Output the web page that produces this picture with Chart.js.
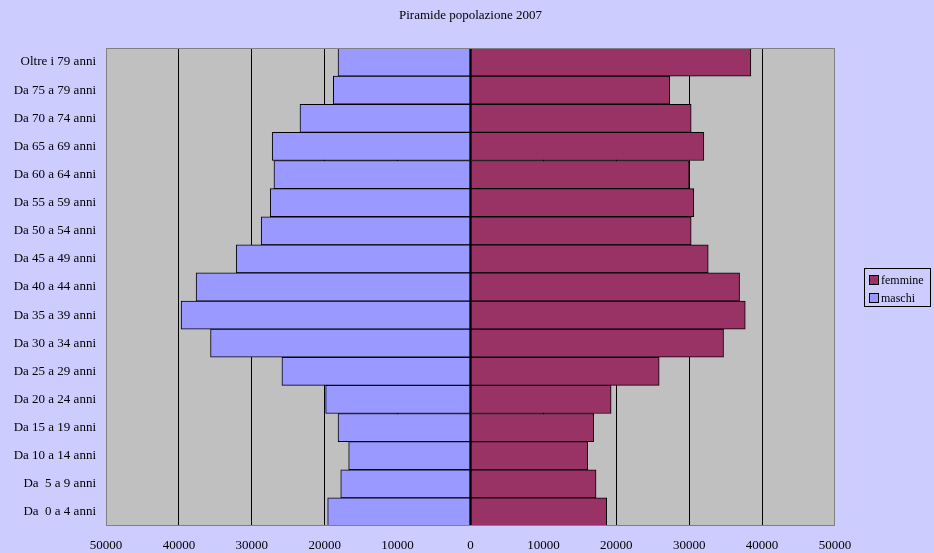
<!DOCTYPE html>
<html>
<head>
<meta charset="utf-8">
<script src="https://cdn.jsdelivr.net/npm/chart.js@4/dist/chart.umd.min.js"></script>
<style>
  html, body { margin: 0; padding: 0; background: #ccccff; }
  #wrap { position: relative; width: 934px; height: 553px; }
  #legend {
    position: absolute; left: 864px; top: 268px; width: 65px; height: 37px;
    border: 1px solid #000; font: 12px "Liberation Serif", "Times New Roman", serif; color: #000;
  }
  #legend div { position: absolute; left: 4px; height: 14px; line-height: 14px; white-space: nowrap; }
  #legend span { display: inline-block; width: 8px; height: 8px; border: 1px solid #000; margin-right: 2px; vertical-align: -1px; }
</style>
</head>
<body>
<div id="wrap">
  <canvas id="pyramid" width="934" height="553"></canvas>
  <div id="legend"></div>
</div>
<script>
const ageGroups = ['Oltre i 79 anni', 'Da 75 a 79 anni', 'Da 70 a 74 anni', 'Da 65 a 69 anni', 'Da 60 a 64 anni',
  'Da 55 a 59 anni', 'Da 50 a 54 anni', 'Da 45 a 49 anni', 'Da 40 a 44 anni', 'Da 35 a 39 anni', 'Da 30 a 34 anni',
  'Da 25 a 29 anni', 'Da 20 a 24 anni', 'Da 15 a 19 anni', 'Da 10 a 14 anni', 'Da  5 a 9 anni', 'Da  0 a 4 anni'];
const femmine = [38460, 27340, 30270, 32010, 30000, 30630, 30270, 32610, 36910, 37690, 34710, 25880, 19290, 16900, 16070, 17220, 18680];
const maschi = [18170, 18820, 23390, 27200, 26960, 27470, 28710, 32140, 37640, 39700, 35660, 25870, 19870, 18170, 16710, 17800, 19590];
const axisMin = -50000;
const axisMax = 50000;
const axisStep = 10000;

const serif = '"Liberation Serif", "Times New Roman", serif';

const plotFrame = {
  id: 'plotFrame',
  afterLayout(chart) {
    // centre the title over the plot area, not the whole canvas
    chart.titleBlock.left = chart.chartArea.left;
    chart.titleBlock.right = chart.chartArea.right;
  },
  beforeDraw(chart) {
    const { ctx, chartArea: a } = chart;
    ctx.save();
    ctx.fillStyle = '#ccccff';
    ctx.fillRect(0, 0, chart.width, chart.height);
    ctx.fillStyle = '#c0c0c0';
    ctx.fillRect(a.left, a.top, a.right - a.left, a.bottom - a.top);
    ctx.restore();
  },
  afterDraw(chart) {
    const { ctx, chartArea: a } = chart;
    ctx.save();
    ctx.strokeStyle = '#808080';
    ctx.lineWidth = 1;
    ctx.strokeRect(Math.round(a.left) + 0.5, Math.round(a.top) + 0.5, Math.round(a.right - a.left) - 1, Math.round(a.bottom - a.top) - 1);
    ctx.restore();
  },
};

const chart = new Chart(document.getElementById('pyramid'), {
  type: 'bar',
  data: {
    labels: ageGroups,
    datasets: [
      { label: 'femmine', data: femmine, backgroundColor: '#993366', borderColor: '#000', borderWidth: 1, borderSkipped: false },
      { label: 'maschi', data: maschi.map((v) => -v), backgroundColor: '#9999ff', borderColor: '#000', borderWidth: 1, borderSkipped: false },
    ],
  },
  plugins: [plotFrame],
  options: {
    indexAxis: 'y',
    responsive: false,
    animation: false,
    layout: { padding: { left: 0, right: 99, top: 0, bottom: 0 } },
    datasets: { bar: { barPercentage: 1, categoryPercentage: 1 } },
    plugins: {
      legend: { display: false },
      tooltip: { enabled: false },
      title: {
        display: true, text: 'Piramide popolazione 2007', color: '#000',
        font: { family: serif, size: 13, weight: 'normal', lineHeight: 1.2 }, padding: { top: 8, bottom: 24.4 },
      },
    },
    scales: {
      x: {
        stacked: true, min: axisMin, max: axisMax,
        afterFit: (scale) => { scale.height = 27; },
        ticks: { stepSize: axisStep, color: '#000', padding: 12, maxRotation: 0, font: { family: serif, size: 13 }, callback: (v) => Math.abs(v) },
        grid: { color: (c) => (c.tick && Math.abs(c.tick.value) === axisMax ? 'rgba(0,0,0,0)' : '#000'), lineWidth: 1, drawTicks: false },
        border: { display: false },
      },
      y: {
        stacked: true,
        afterFit: (scale) => { scale.width = 106; },
        ticks: { color: '#000', padding: 10, autoSkip: false, font: { family: serif, size: 13 } },
        grid: { display: false, drawTicks: false },
        border: { display: false },
      },
    },
  },
});

const legend = document.getElementById('legend');
chart.data.datasets.forEach((ds, i) => {
  const row = document.createElement('div');
  row.style.top = (4 + i * 18) + 'px';
  row.innerHTML = '<span style="background:' + ds.backgroundColor + '"></span>' + ds.label;
  legend.appendChild(row);
});
</script>
</body>
</html>
